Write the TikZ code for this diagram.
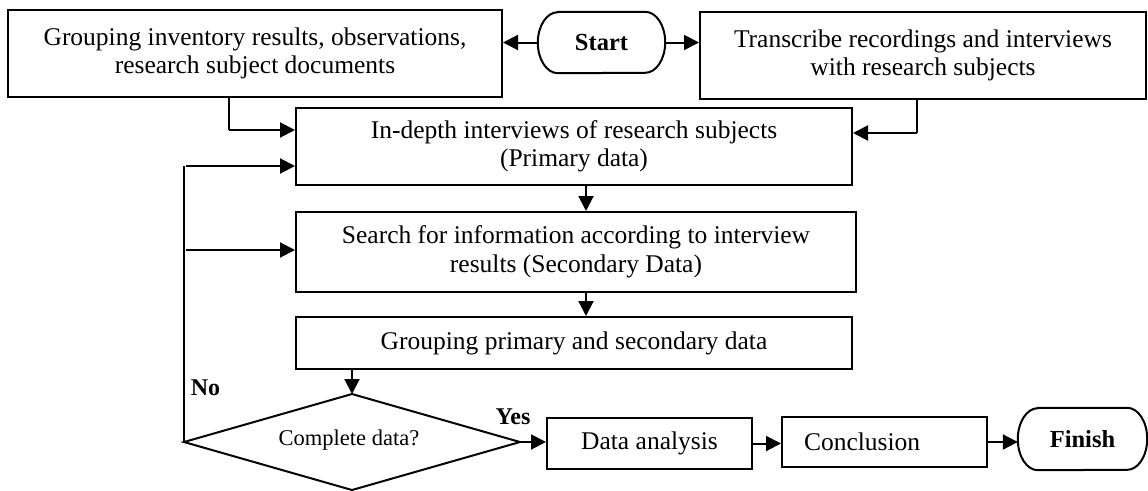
\documentclass[tikz,border=0pt]{standalone}
\usepackage{fontspec}
\setmainfont{Liberation Serif}
\usetikzlibrary{arrows.meta,calc}
\begin{document}
\begin{tikzpicture}[x=1pt,y=1pt,
  box/.style={draw, line width=2pt, inner sep=0pt, align=center,
    font=\fontsize{25.5}{28.5}\selectfont},
  term/.style={inner sep=0pt, font=\fontsize{24.5}{28}\selectfont\bfseries},
  conn/.style={line width=2pt},
  thinconn/.style={line width=1.5pt},
  arr/.style={line width=2pt, -{Triangle[length=15pt,width=15pt]}},
  lbl/.style={font=\fontsize{24}{28}\selectfont\bfseries, inner sep=0pt}]
\useasboundingbox (0,0) rectangle (1148,-490);

% nodes
\node[box, minimum width=494pt, minimum height=87pt] (b1) at (255,-53.5)
  {Grouping inventory results, observations,\\research subject documents};
\node[term, minimum width=127pt, minimum height=61pt] (start) at (601.5,-42.5) {Start};
\node[box, minimum width=446pt, minimum height=87pt] (b2) at (923,-55.5)
  {Transcribe recordings and interviews\\with research subjects};
\node[box, minimum width=556pt, minimum height=77pt] (b3) at (574,-146.5)
  {In-depth interviews of research subjects\\(Primary data)};
\node[box, minimum width=560pt, minimum height=80pt] (b4) at (576,-252)
  {Search for information according to interview\\results (Secondary Data)};
\node[box, minimum width=556pt, minimum height=52pt] (b5) at (574,-343)
  {Grouping primary and secondary data};
\node[inner sep=0pt, font=\fontsize{22.5}{26}\selectfont] (dec) at (349,-440) {Complete data?};
\coordinate (decT) at (352,-394);
\coordinate (decR) at (520,-442);
\coordinate (decB) at (352,-490);
\coordinate (decL) at (184,-442);
\node[box, minimum width=205pt, minimum height=51pt] (da) at (649.5,-443.5) {Data analysis};
\node[box, minimum width=205pt, minimum height=50pt, text width=161pt, align=left,
  inner xsep=22pt] (conc) at (884.5,-442) {Conclusion};
\node[term, minimum width=129pt, minimum height=62pt] (fin) at (1082.5,-439) {Finish};

% terminal outlines
\draw[line width=2pt] ([xshift=20pt]start.north west) -- ([xshift=-20pt]start.north east)
  arc[start angle=90, end angle=-90, x radius=20pt, y radius=30.5pt]
  -- ([xshift=20pt]start.south west)
  arc[start angle=270, end angle=90, x radius=20pt, y radius=30.5pt] -- cycle;
\draw[line width=2pt] ([xshift=20pt]fin.north west) -- ([xshift=-20pt]fin.north east)
  arc[start angle=90, end angle=-90, x radius=20pt, y radius=31pt]
  -- ([xshift=20pt]fin.south west)
  arc[start angle=270, end angle=90, x radius=20pt, y radius=31pt] -- cycle;

% decision diamond
\draw[line width=2pt] (decT) -- (decR) -- (decB) -- (decL) -- cycle;

% connectors
\draw[arr] (start.west) -- (start.west -| b1.east);
\draw[arr] (start.east) -- (start.east -| b2.west);
\coordinate (in1) at ([yshift=16.5pt]b3.west);
\coordinate (in2) at ([yshift=13.5pt]b3.east);
\draw[thinconn] ([xshift=-26pt]b1.south) -- ([xshift=-26pt]b1.south |- in1);
\draw[arr] ([xshift=-26pt]b1.south |- in1) -- (in1);
\draw[thinconn] ([xshift=-6pt]b2.south) -- ([xshift=-6pt]b2.south |- in2);
\draw[arr] ([xshift=-6pt]b2.south |- in2) -- (in2);
\coordinate (fb1) at ([yshift=-19.5pt]b3.west);
\coordinate (fb2) at ([yshift=2pt]b4.west);
\draw[thinconn] (decL) -- (decL |- fb1);
\draw[arr] ([xshift=2pt]decL |- fb1) -- (fb1);
\draw[arr] ([xshift=2pt]decL |- fb2) -- (fb2);
\draw[arr] ([xshift=12pt]b3.south) -- ([xshift=12pt]b3.south |- b4.north);
\draw[arr] ([xshift=10pt]b4.south) -- ([xshift=10pt]b4.south |- b5.north);
\draw[arr] (b5.south -| decT) -- (decT);
\draw[arr] (decR) -- (decR -| da.west);
\draw[arr] (da.east) -- (da.east -| conc.west);
\draw[arr] (conc.east) -- (conc.east -| fin.west);

% labels
\node[lbl] (no) at (205.5,-388) {No};
\node[lbl] (yes) at (513,-417) {Yes};
\end{tikzpicture}
\end{document}
